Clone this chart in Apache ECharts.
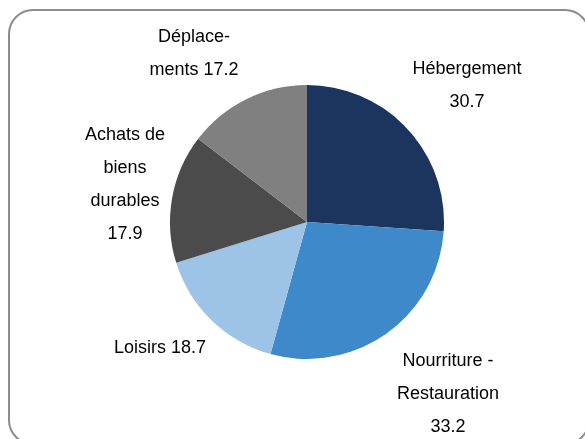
<!DOCTYPE html>
<html>
<head>
<meta charset="utf-8">
<script src="https://cdn.jsdelivr.net/npm/echarts@6/dist/echarts.min.js"></script>
<style>
  html, body { margin: 0; padding: 0; background: #fff; }
  #chart { width: 585px; height: 439px; }
</style>
</head>
<body>
<div id="chart"></div>
<script>
// postes de dépenses
const categories = ['Hébergement', 'Nourriture - Restauration', 'Loisirs', 'Achats de biens durables', 'Déplacements'];
const values = [30.7, 33.2, 18.7, 17.9, 17.2];
const labelTexts = ['Hébergement\n{v}', 'Nourriture -\nRestauration\n{v}', 'Loisirs {v}', 'Achats de\nbiens\ndurables\n{v}', 'Déplace-\nments {v}'];

const COLORS = ['#1b355f', '#3e89c9', '#9dc3e7', '#4b4b4b', '#808080'];
const FONT = '"Liberation Sans", Arial, sans-serif';
// centre des blocs de texte (mise en page)
const LABEL_POS = [[467, 86], [448, 394], [160, 348], [125, 185], [194, 54]];

const chart = echarts.init(document.getElementById('chart'));
chart.setOption({
  animation: false,
  graphic: [{
    type: 'rect', silent: true, z: -1,
    shape: { x: 9, y: 10, width: 580, height: 434, r: 24 },
    style: { fill: '#fff', stroke: '#8c8c8c', lineWidth: 2 }
  }],
  series: [{
    type: 'pie',
    center: [307, 222],
    radius: 137,
    startAngle: 90,
    clockwise: true,
    data: categories.map((c, i) => ({ name: c, value: values[i], itemStyle: { color: COLORS[i] } })),
    label: {
      show: true,
      position: 'outside',
      color: '#000',
      fontFamily: FONT,
      fontSize: 18,
      lineHeight: 33,
      align: 'center',
      overflow: 'none',
      formatter: (p) => labelTexts[p.dataIndex].replace('{v}', p.value.toFixed(1))
    },
    labelLine: { show: false },
    labelLayout: (p) => ({
      x: LABEL_POS[p.dataIndex][0],
      y: LABEL_POS[p.dataIndex][1],
      align: 'center',
      verticalAlign: 'middle'
    }),
    emphasis: { disabled: true }
  }]
});
</script>
</body>
</html>
